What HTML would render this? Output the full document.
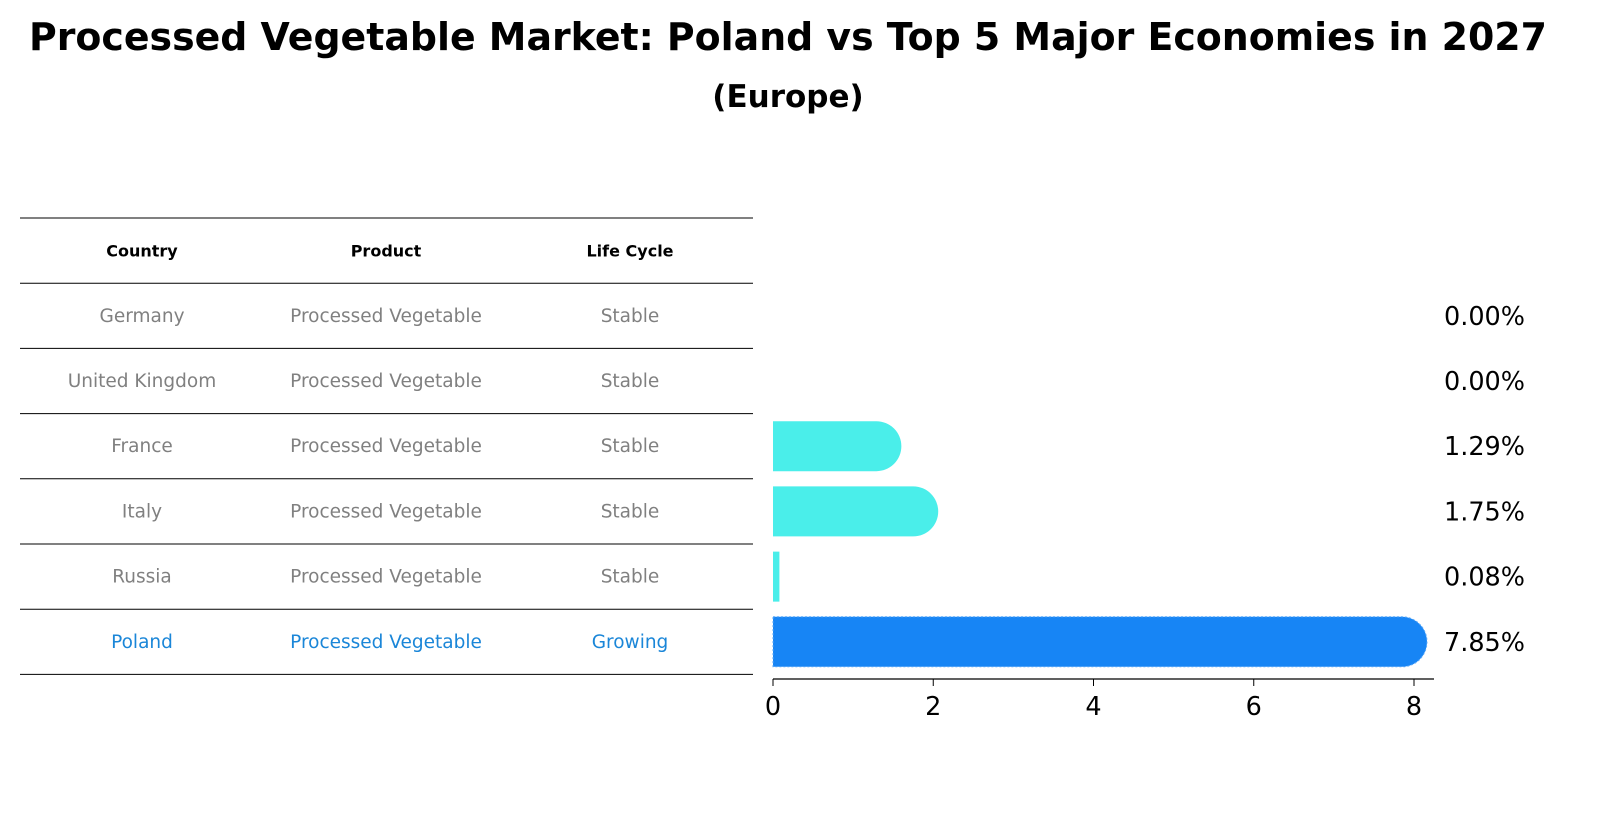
<!DOCTYPE html>
<html><head><meta charset="utf-8"><style>
body{margin:0;background:#fff;font-family:"DejaVu Sans","Liberation Sans",sans-serif;}
</style></head><body>
<svg width="1606" height="823" xmlns="http://www.w3.org/2000/svg">
<text x="788" y="50" text-anchor="middle" font-size="38" font-weight="bold" textLength="1518" lengthAdjust="spacingAndGlyphs">Processed Vegetable Market: Poland vs Top 5 Major Economies in 2027</text>
<text x="788" y="107" text-anchor="middle" font-size="31" font-weight="bold">(Europe)</text>
<g id="table"></g>
<g id="bars"></g>
</svg>
<script>
const countries=["Germany","United Kingdom","France","Italy","Russia","Poland"];
const products=["Processed Vegetable","Processed Vegetable","Processed Vegetable","Processed Vegetable","Processed Vegetable","Processed Vegetable"];
const lifeCycles=["Stable","Stable","Stable","Stable","Stable","Growing"];
const values=[0.00,0.00,1.29,1.75,0.08,7.85];
const xTicks=[0,2,4,6,8];
const NS="http://www.w3.org/2000/svg";
function mk(tag,attrs,parent){const e=document.createElementNS(NS,tag);for(const k in attrs)e.setAttribute(k,attrs[k]);parent.appendChild(e);return e;}
const table=document.getElementById('table'),bars=document.getElementById('bars');
const rowTop=218,rowH=65.2,colX=[142,386,630];
for(let i=0;i<=7;i++){const l=mk('line',{x1:20,x2:753,y1:rowTop+i*rowH,y2:rowTop+i*rowH,stroke:'#000','stroke-width':1},table);

}
["Country","Product","Life Cycle"].forEach((h,j)=>{const t=mk('text',{x:colX[j],y:rowTop+rowH/2+6,'text-anchor':'middle','font-size':16,'font-weight':'bold'},table);t.textContent=h;

});
countries.forEach((c,i)=>{const col=c==="Poland"?"#1a86d8":"#808080";[c,products[i],lifeCycles[i]].forEach((v,j)=>{const t=mk('text',{x:colX[j],y:rowTop+(i+1.5)*rowH+6,'text-anchor':'middle','font-size':18.5,fill:col},table);t.textContent=v;

});});
const x0=773,px=(1414-773)/8;const xs=v=>x0+v*px;const bh=50;
values.forEach((v,i)=>{const cy=rowTop+(i+1.5)*rowH;const w=xs(v)-x0;const col=countries[i]==="Poland"?"#1785f5":"#4aeeea";
if(w>0){let d;if(w>=25){const r=25;d=`M${x0},${cy-bh/2}H${x0+w}A${r},${r} 0 0 1 ${x0+w},${cy+bh/2}H${x0}Z`;}else{d=`M${x0},${cy-bh/2}H${x0+w}V${cy+bh/2}H${x0}Z`;}
const p=mk('path',{d:d,fill:col},bars);if(countries[i]==="Poland"){p.setAttribute('stroke','#5aa8f8');p.setAttribute('stroke-dasharray','2,2');}

}
const t=mk('text',{x:1444,y:cy+9,'font-size':25.5},bars);t.textContent=v.toFixed(2)+'%';

});
const ax=mk('line',{x1:x0,x2:1434,y1:679,y2:679,stroke:'#000','stroke-width':1.2},bars);


xTicks.forEach(v=>{const l=mk('line',{x1:xs(v),x2:xs(v),y1:679,y2:686,stroke:'#000'},bars);


const t=mk('text',{x:xs(v),y:715,'text-anchor':'middle','font-size':25.5},bars);t.textContent=v;

});
</script>
</body></html>
